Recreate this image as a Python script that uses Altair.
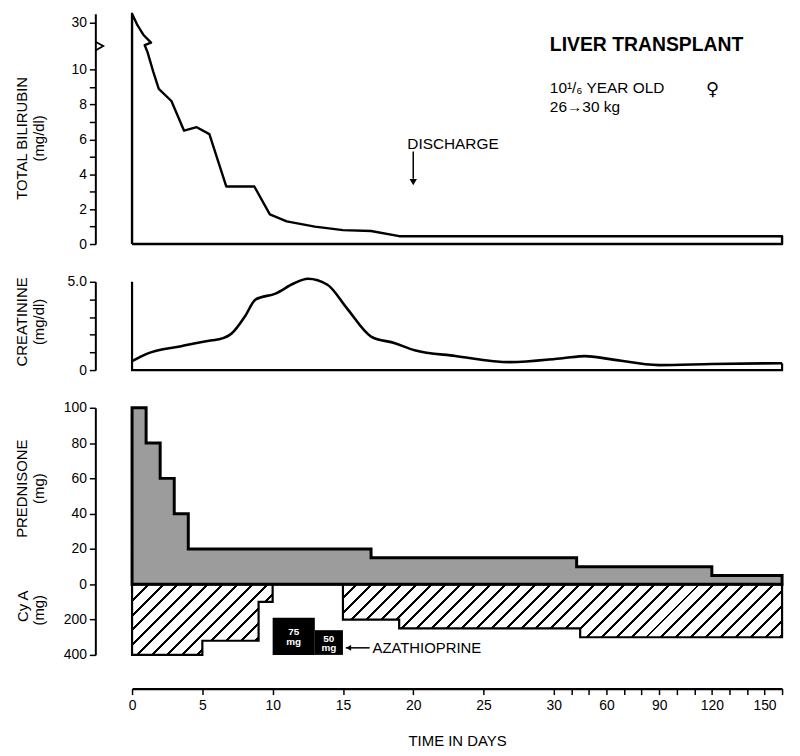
import altair as alt
import pandas as pd

FONT = "Liberation Sans"
W = 655
X_DOMAIN = [0, 30, 160]          # days: linear to 30, compressed afterwards
X_RANGE = [0, 425, W]

# ---------------- data ----------------
# total bilirubin (mg/dl); the axis is broken above 10 -> 12.7 on the scale = 30 mg/dl
bili_day = [0, 0.35, 0.8, 1.35, 0.9, 1.1, 1.5, 1.9, 2.8, 3.7, 4.6, 5.5, 6.7, 8.7, 9.8, 11.0, 13.0, 15.0, 17.0, 19.0, 160]
bili_val = [13.2, 12.6, 12.0, 11.55, 11.4, 11.0, 9.9, 8.9, 8.2, 6.5, 6.7, 6.3, 3.3, 3.3, 1.7, 1.3, 1.0, 0.8, 0.75, 0.45, 0.45]
bili_ticks = [0, 1, 2, 3, 4, 5, 6, 7, 8, 9, 10, 12.7]
break_day = [-2.6, -2.05, -2.6]
break_val = [11.1, 11.35, 11.6]

# creatinine (mg/dl)
crea_day = [0, 1.0, 3.5, 5.7, 6.2, 7.1, 8.0, 8.8, 10.2, 11.5, 12.5, 13.9, 15.3, 17.0, 18.7, 20.1, 23.0, 26.9, 35.0, 48.0, 62, 90, 120, 160]
crea_val = [0.5, 0.9, 1.35, 1.69, 1.74, 2.08, 3.0, 4.0, 4.33, 4.9, 5.17, 4.83, 3.48, 1.9, 1.52, 1.12, 0.8, 0.45, 0.67, 0.79, 0.62, 0.28, 0.34, 0.39]
crea_ticks = [0, 1, 2, 3, 4, 5]

# prednisone (mg), step changes
pred_day = [0, 1, 2, 3, 4, 17, 43, 120, 160]
pred_mg = [100, 80, 60, 40, 20, 15, 10, 5, 5]

# cyclosporine A (mg), step changes
cya_day = [0, 5, 9, 10, 15, 19, 45, 160]
cya_mg = [400, 320, 100, 0, 200, 250, 300, 300]

# azathioprine (mg)
aza_start = [10, 13]
aza_end = [13, 15]
aza_mg = [75, 50]

x_tick_days = [0, 5, 10, 15, 20, 25, 30, 40, 50, 60, 70, 80, 90, 100, 110, 120, 130, 140, 150, 160]
discharge_day = 20

# ---------------- helpers ----------------
xscale = alt.Scale(domain=X_DOMAIN, range=X_RANGE, nice=False, zero=False)


def X(field, axis=None):
    return alt.X(f"{field}:Q", scale=xscale, axis=axis)


def yaxis(**kw):
    base = dict(offset=37, domainColor="black", domainWidth=2, tickColor="black", tickWidth=1.5,
                tickSize=6, labelFont=FONT, labelFontSize=14, labelColor="black", labelPadding=3,
                labelOverlap=False, labelFlush=False, labelBound=False,
                grid=False, titleFont=FONT, titleFontSize=15, titleFontWeight="normal",
                titleColor="black", titleAngle=270, titleBaseline="bottom", titleAlign="center",
                titleLineHeight=17, titleX=-66)
    base.update(kw)
    return alt.Axis(**base)


one = pd.DataFrame({"a": [0]})

# ---------------- top panel: bilirubin ----------------
ys_top = alt.Scale(domain=[0, 13.2], nice=False, zero=False)
top_axis = yaxis(values=bili_ticks,
                 labelExpr="datum.value > 11 ? '30' : (datum.value % 2 == 0 ? datum.label : '')",
                 title=["TOTAL BILIRUBIN", "(mg/dl)"], titleY=125)


def Yt(field):
    return alt.Y(f"{field}:Q", scale=ys_top, axis=top_axis)


outline_day = [0] + bili_day + [160, 0]
outline_val = [0] + bili_val + [0, 0]
bili_df = pd.DataFrame({"i": range(len(outline_day)), "day": outline_day, "v": outline_val})

top_line = alt.Chart(bili_df).mark_line(color="black", strokeWidth=2.4, strokeJoin="round").encode(
    x=X("day"), y=Yt("v"), order="i:Q")

brk_df = pd.DataFrame({"i": range(3), "day": break_day, "v": break_val})
brk = alt.Chart(brk_df).mark_line(color="black", strokeWidth=1.8).encode(
    x=X("day"), y=Yt("v"), order="i:Q")

dis_df = pd.DataFrame({"day": [discharge_day], "t": [5.75], "a1": [5.3], "a2": [3.75], "tip": [3.55]})
dis_text = alt.Chart(dis_df).mark_text(text="DISCHARGE", align="left", baseline="middle", font=FONT,
                                       fontSize=15.5, color="black", dx=-6).encode(
    x=X("day"), y=Yt("t"))
dis_rule = alt.Chart(dis_df).mark_rule(color="black", strokeWidth=1.5).encode(
    x=X("day"), y=Yt("a1"), y2="a2:Q")
dis_tip = alt.Chart(dis_df).mark_point(shape="triangle-down", filled=True, color="black", size=55, opacity=1).encode(
    x=X("day"), y=Yt("tip"))

t1 = alt.Chart(one).mark_text(text="LIVER TRANSPLANT", align="left", baseline="middle", font=FONT,
                              fontSize=19.5, fontWeight="bold", color="black").encode(
    x=alt.value(421), y=alt.value(31))
t2 = alt.Chart(one).mark_text(text="10¹/₆ YEAR OLD", align="left", baseline="middle", font=FONT,
                              fontSize=15.5, color="black").encode(x=alt.value(421), y=alt.value(75))
t3 = alt.Chart(one).mark_text(text="♀", align="center", baseline="middle", font="DejaVu Sans",
                              fontSize=18, color="black").encode(x=alt.value(585), y=alt.value(77))
t4 = alt.Chart(one).mark_text(text="26→30 kg", align="left", baseline="middle", font=FONT,
                              fontSize=15.5, color="black").encode(x=alt.value(421), y=alt.value(94))

top = alt.layer(top_line, brk, dis_rule, dis_tip, dis_text, t1, t2, t3, t4).properties(width=W, height=232)

# ---------------- middle panel: creatinine ----------------
ys_mid = alt.Scale(domain=[0, 5], nice=False, zero=False)
mid_axis = yaxis(values=crea_ticks,
                 labelExpr="datum.value == 5 ? '5.0' : (datum.value == 0 ? '0' : '')",
                 title=["CREATININE", "(mg/dl)"], titleY=40)


def Ym(field):
    return alt.Y(f"{field}:Q", scale=ys_mid, axis=mid_axis)


frame_df = pd.DataFrame({"i": range(4), "day": [0, 0, 160, 160], "v": [5, 0, 0, crea_val[-1]]})
mid_frame = alt.Chart(frame_df).mark_line(color="black", strokeWidth=2.2).encode(
    x=X("day"), y=Ym("v"), order="i:Q")
crea_df = pd.DataFrame({"day": crea_day, "v": crea_val})
mid_line = alt.Chart(crea_df).mark_line(color="black", strokeWidth=2.6, interpolate="monotone").encode(
    x=X("day"), y=Ym("v"))

mid = alt.layer(mid_frame, mid_line).properties(width=W, height=89)

# ---------------- bottom panel: prednisone / CyA / azathioprine ----------------
ys_bot = alt.Scale(domain=[-40, 100], nice=False, zero=False)
bot_axis = yaxis(values=[-40, -20, 0, 20, 40, 60, 80, 100],
                 labelExpr="datum.value < 0 ? format(-datum.value * 10, 'd') : datum.label",
                 title=["PREDNISONE", "(mg)"], titleY=81)


def Yb(field):
    return alt.Y(f"{field}:Q", scale=ys_bot, axis=bot_axis)


x_axis = alt.Axis(values=x_tick_days, offset=34, domainColor="black", domainWidth=2.5,
                  tickColor="black", tickWidth=1.5, tickSize=6, labelFont=FONT, labelFontSize=14,
                  labelColor="black", labelPadding=4, grid=False, labelOverlap=False,
                  labelFlush=False, labelBound=False,
                  labelExpr="(datum.value <= 30 || datum.value % 30 == 0) ? datum.label : ''",
                  title="TIME IN DAYS", titleFont=FONT, titleFontSize=15, titleFontWeight="normal",
                  titleColor="black", titlePadding=21)

# hatch fill for CyA (diagonal stripes in bounding-box units)
H_PX = 40 * 249.0 / 140
dx = 1.1
dy = dx * H_PX / W
period = (15.0 / W) * dx / (dx * dx + dy * dy)
stripe = period * 0.2
stops = []
k = 0
while k * period + stripe < 1.0:
    a = k * period
    b = a + stripe
    stops += [alt.GradientStop(offset=a, color="white"), alt.GradientStop(offset=a, color="black"),
              alt.GradientStop(offset=b, color="black"), alt.GradientStop(offset=b, color="white")]
    k += 1
hatch = alt.Gradient(gradient="linear", stops=stops, x1=0, y1=0, x2=dx, y2=dy)

cya_df = pd.DataFrame({"day": cya_day, "mg": cya_mg})
cya = alt.Chart(cya_df).transform_calculate(v="-datum.mg / 10").mark_area(
    interpolate="step-after", fill=hatch, stroke="black", strokeWidth=2.2).encode(
    x=X("day", x_axis), y=Yb("v"), y2=alt.datum(0))

pred_df = pd.DataFrame({"day": pred_day, "mg": pred_mg})
pred = alt.Chart(pred_df).mark_area(
    interpolate="step-after", fill="#9c9c9c", stroke="black", strokeWidth=3).encode(
    x=X("day", x_axis), y=Yb("mg"), y2=alt.datum(0))

aza_df = pd.DataFrame({"start": aza_start, "end": aza_end, "mg": aza_mg,
                       "label": [f"{m}\nmg" for m in aza_mg]})
aza_base = alt.Chart(aza_df).transform_calculate(
    top="-40 + datum.mg * 0.28", mid="-40 + datum.mg * 0.14", xm="(datum.start + datum.end) / 2")
aza_rect = aza_base.mark_rect(color="black").encode(
    x=X("start", x_axis), x2="end:Q", y=Yb("top"), y2=alt.datum(-40))
aza_text = aza_base.mark_text(color="white", font=FONT, fontSize=10, fontWeight="bold",
                              lineBreak="\n", lineHeight=10, baseline="middle", align="center",
                              dy=-4).encode(
    x=X("xm", x_axis), y=Yb("mid"), text="label:N")

arr_df = pd.DataFrame({"x1": [15.2], "x2": [16.9], "tip": [15.4], "tx": [17.1], "v": [-36]})
aza_arrow = alt.Chart(arr_df).mark_rule(color="black", strokeWidth=1.5).encode(
    x=X("x1", x_axis), x2="x2:Q", y=Yb("v"))
aza_tip = alt.Chart(arr_df).mark_point(shape="triangle-left", filled=True, color="black", size=35, opacity=1).encode(
    x=X("tip", x_axis), y=Yb("v"))
aza_label = alt.Chart(arr_df).mark_text(text="AZATHIOPRINE", align="left", baseline="middle", font=FONT,
                                        fontSize=15, color="black").encode(
    x=X("tx", x_axis), y=Yb("v"))

cy1 = alt.Chart(one).mark_text(text="Cy A", angle=270, align="center", baseline="middle", font=FONT,
                               fontSize=15, color="black").encode(x=alt.value(-110), y=alt.value(200))
cy2 = alt.Chart(one).mark_text(text="(mg)", angle=270, align="center", baseline="middle", font=FONT,
                               fontSize=15, color="black").encode(x=alt.value(-94), y=alt.value(204))

bot = alt.layer(cya, pred, aza_rect, aza_text, aza_arrow, aza_tip, aza_label, cy1, cy2).properties(
    width=W, height=249)

chart = alt.vconcat(top, mid, bot, spacing=38, bounds="flush").properties(
    padding={"left": 6, "top": 1, "right": 4, "bottom": 0},
    background="white",
).configure_view(stroke=None)

chart.save("out.html", embed_options={"renderer": "svg", "actions": False})
